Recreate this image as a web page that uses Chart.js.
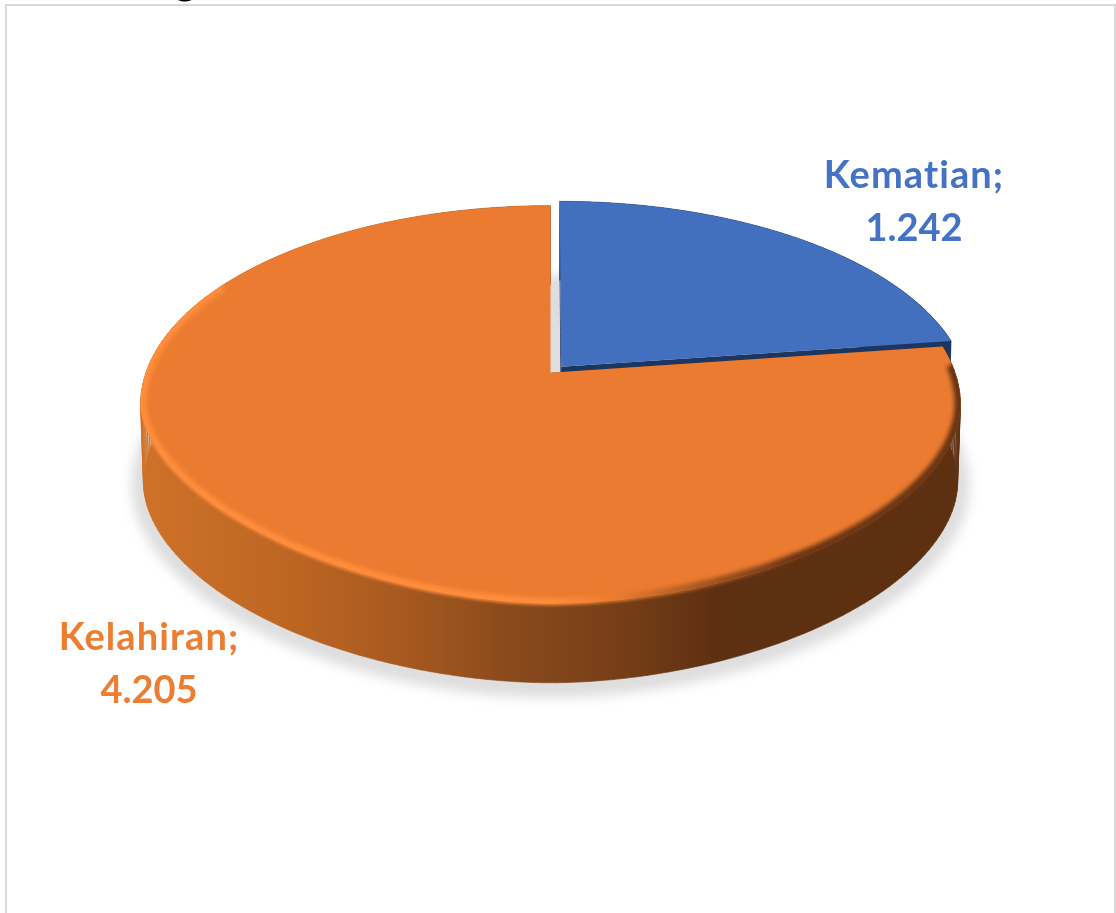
<!DOCTYPE html>
<html>
<head>
<meta charset="utf-8">
<title>Kelahiran dan Kematian</title>
<script src="https://cdn.jsdelivr.net/npm/chart.js@4"></script>
<style>
  html, body { margin: 0; padding: 0; background: #fff; overflow: hidden; }
  #wrap { position: relative; width: 1116px; height: 913px; overflow: hidden; }
  #frame { position: absolute; left: 5px; top: 4px; width: 1107px; height: 1000px; border: 2px solid #d9d9d9; }
  #myChart { position: absolute; left: 0; top: 0; }
</style>
</head>
<body>
<div id="wrap">
  <div id="frame"></div>
  <canvas id="myChart" width="1116" height="913"></canvas>
</div>
<script>
var categories = ["Kematian", "Kelahiran"];
var values = [1242, 4205];
var sliceColors = ["#4270be", "#eb7b30"];
var wallColors = ["#1c3561", "#8a4a1c"];
var labelColors = ["#4472c4", "#ed7d31"];

// view of the tilted disc: circle (u,v) -> page, with some perspective
var view = { cx: 550.5, cy: 372.7, rx: 404.6, ry: 193.9, k: 0.161, depth: 79, baseScale: 0.993 };
var halfW = view.rx / Math.sqrt(1 - view.k * view.k);
var halfH = view.ry / (1 - view.k * view.k);
var midY = view.cy + view.ry * view.k / (1 - view.k * view.k);

function project(u, v, low) {
  var w = 1 - view.k * v;
  var sx = low ? view.baseScale : 1;
  return {
    x: view.cx + sx * view.rx * u / w,
    y: view.cy + view.ry * v / w + (low ? view.depth : 0)
  };
}

// the front of the reference disc is a bit flatter than an ellipse (bevel)
function rimPoint(u, v, low) {
  var p = project(u, v, low);
  var baseY = midY + (low ? view.depth : 0);
  var dy = p.y - baseY;
  if (dy <= 0) return p;
  var dx = p.x - view.cx;
  var pw = low ? 1.87 : (dx < 0 ? 1.77 : 1.88);
  var a = Math.abs(dx) / (halfW * (low ? view.baseScale : 1));
  var b = dy / halfH;
  var s = Math.pow(Math.pow(a, pw) + Math.pow(b, pw), -1 / pw);
  return { x: view.cx + dx * s, y: baseY + dy * s };
}

function formatValue(v) {
  return String(v).replace(/\B(?=(\d{3})+$)/g, ".");
}

function rimPoints(el, low) {
  var pts = [];
  var off = el.options.offset / el.outerRadius;
  var mid = (el.startAngle + el.endAngle) / 2;
  var du = Math.cos(mid) * off, dv = Math.sin(mid) * off;
  for (var i = 0; i <= 200; i++) {
    var t = el.startAngle + (el.endAngle - el.startAngle) * i / 200;
    pts.push(rimPoint(Math.cos(t) + du, Math.sin(t) + dv, low));
  }
  return { pts: pts, apex: project(du, dv, low) };
}

function tracePts(ctx, pts, start) {
  for (var i = 0; i < pts.length; i++) {
    if (i === 0 && start) ctx.moveTo(pts[i].x, pts[i].y);
    else ctx.lineTo(pts[i].x, pts[i].y);
  }
}

function faceShape(ctx, el) {
  var r = rimPoints(el, false);
  ctx.moveTo(r.apex.x, r.apex.y);
  tracePts(ctx, r.pts, false);
  ctx.closePath();
}

// wall swept down from the rim, one small quad per step
function wallShape(ctx, el) {
  var top = rimPoints(el, false).pts, low = rimPoints(el, true).pts;
  for (var i = 0; i < top.length - 1; i++) {
    ctx.moveTo(top[i].x, top[i].y);
    ctx.lineTo(top[i + 1].x, top[i + 1].y);
    ctx.lineTo(low[i + 1].x, low[i + 1].y);
    ctx.lineTo(low[i].x, low[i].y);
    ctx.closePath();
  }
}

function drawWall(ctx, el, fill) {
  var top = rimPoints(el, false), low = rimPoints(el, true);
  var last = top.pts.length - 1;
  ctx.fillStyle = fill;
  ctx.strokeStyle = fill;
  ctx.lineWidth = 0.6;
  ctx.beginPath();
  wallShape(ctx, el);
  ctx.fill();
  ctx.stroke();
  // walls along the two cut edges
  [0, last].forEach(function(n) {
    ctx.beginPath();
    ctx.moveTo(top.apex.x, top.apex.y);
    ctx.lineTo(top.pts[n].x, top.pts[n].y);
    ctx.lineTo(low.pts[n].x, low.pts[n].y);
    ctx.lineTo(low.apex.x, low.apex.y);
    ctx.closePath();
    ctx.fill();
  });
}

var disc3d = {
  id: "disc3d",
  beforeDatasetDraw: function(chart, args) {
    var ctx = chart.ctx;
    var arcs = chart.getDatasetMeta(args.index).data;
    var blue = arcs[0], orange = arcs[1];

    // soft shadow under the disc
    var ring = [];
    for (var i = 0; i <= 360; i += 2) {
      ring.push(rimPoint(Math.cos(i * Math.PI / 180), Math.sin(i * Math.PI / 180), true));
    }
    ctx.save();
    ctx.filter = "blur(6px)";
    ctx.translate(0, 3);
    ctx.fillStyle = "#dedede";
    ctx.strokeStyle = "#dedede";
    ctx.lineWidth = 24;
    ctx.beginPath();
    tracePts(ctx, ring, true);
    ctx.closePath();
    ctx.fill();
    ctx.stroke();
    ctx.restore();

    // back slice
    drawWall(ctx, blue, wallColors[0]);
    ctx.beginPath();
    faceShape(ctx, blue);
    ctx.fillStyle = sliceColors[0];
    ctx.fill();

    // big slice, wall shaded from the left to the right
    var g = ctx.createLinearGradient(140, 0, 960, 0);
    g.addColorStop(0, "#cf7229");
    g.addColorStop(0.2, "#bb6422");
    g.addColorStop(0.32, "#a7591f");
    g.addColorStop(0.45, "#8a4a1c");
    g.addColorStop(0.58, "#773f18");
    g.addColorStop(0.7, "#5e3012");
    g.addColorStop(1, "#5e3012");
    drawWall(ctx, orange, g);
    ctx.beginPath();
    faceShape(ctx, orange);
    ctx.fillStyle = sliceColors[1];
    ctx.fill();

    // bevel on the rim of the face, soft on both sides of the edge
    var b = ctx.createLinearGradient(140, 0, 960, 0);
    b.addColorStop(0, "#ff8d3c");
    b.addColorStop(0.5, "#ff8d3c");
    b.addColorStop(0.58, "#eb7b30");
    b.addColorStop(0.68, "#a85a22");
    b.addColorStop(0.8, "#6a3513");
    b.addColorStop(1, "#6a3513");
    var rim = rimPoints(orange, false).pts;
    ctx.save();
    ctx.beginPath();
    faceShape(ctx, orange);
    ctx.clip();
    ctx.filter = "blur(2px)";
    ctx.strokeStyle = b;
    ctx.lineWidth = 12;
    ctx.beginPath();
    tracePts(ctx, rim.slice(4, 157), true);
    ctx.stroke();
    ctx.restore();

    // same bevel spilling a little over the top of the wall
    ctx.save();
    ctx.beginPath();
    wallShape(ctx, orange);
    ctx.clip();
    ctx.filter = "blur(1.5px)";
    ctx.strokeStyle = b;
    ctx.lineWidth = 3;
    ctx.beginPath();
    tracePts(ctx, rim.slice(4, 157), true);
    ctx.stroke();
    ctx.restore();
    return false;
  },
  afterDraw: function(chart) {
    var ctx = chart.ctx;
    var place = chart.options.plugins.disc3d.labels;
    ctx.save();
    ctx.textAlign = "center";
    ctx.textBaseline = "alphabetic";
    ctx.font = "bold 38px Lato, Carlito, sans-serif";
    for (var i = 0; i < categories.length; i++) {
      ctx.fillStyle = labelColors[i];
      ctx.letterSpacing = "1.1px";
      ctx.fillText(categories[i] + ";", place[i].x, place[i].y);
      ctx.letterSpacing = "0px";
      ctx.fillText(formatValue(values[i]), place[i].x, place[i].y + 53);
    }
    // what is left of the heading, cut off by the top of the page
    ctx.fillStyle = "#000";
    ctx.font = "bold 44px Lato, sans-serif";
    ctx.textAlign = "left";
    ctx.fillText("g", 174, -6);
    ctx.restore();
  }
};

var myChart = new Chart(document.getElementById("myChart").getContext("2d"), {
  type: "pie",
  data: {
    labels: categories,
    datasets: [{
      data: values,
      backgroundColor: sliceColors,
      borderWidth: 0,
      offset: [18, 0]
    }]
  },
  options: {
    responsive: false,
    animation: false,
    events: [],
    plugins: {
      legend: { display: false },
      tooltip: { enabled: false },
      disc3d: { labels: [{ x: 914, y: 188 }, { x: 149, y: 650 }] }
    }
  },
  plugins: [disc3d]
});
</script>
</body>
</html>
